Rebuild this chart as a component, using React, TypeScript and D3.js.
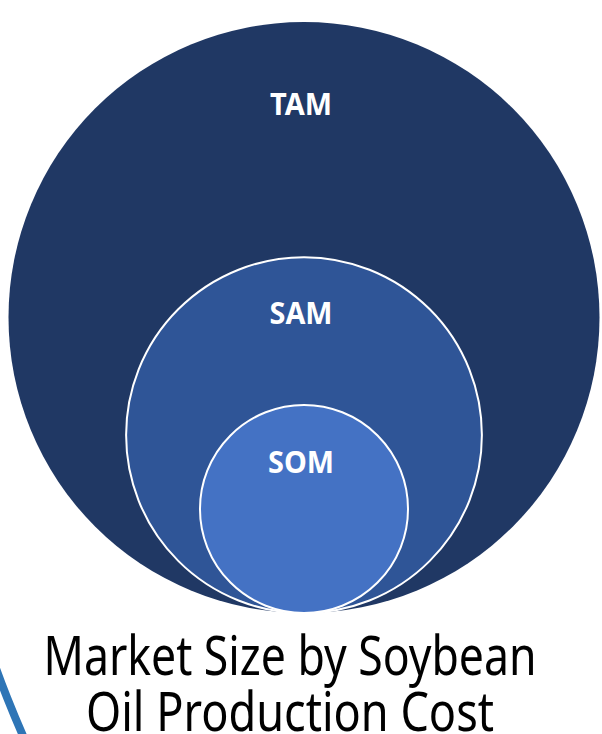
import React, { useEffect, useRef } from 'react';
import * as d3 from 'd3';

// market tiers, outer to inner
const labels = ['TAM', 'SAM', 'SOM'];
const shares = [1, 0.602, 0.352];
const fills = ['#203864', '#2F5597', '#4472C4'];
const titleLines = ['Market Size by Soybean', 'Oil Production Cost'];

const W = 602;
const H = 734;

const App = () => {
  const ref = useRef<SVGSVGElement | null>(null);

  useEffect(() => {
    const svg = d3.select(ref.current);
    svg.selectAll('*').remove();

    const cx = 304;
    const bottom = 613;
    const r = d3.scaleLinear().domain([0, 1]).range([0, 295.5]);
    // label baseline distance from the top of each circle
    const labelOffset = [93, 67, 68];
    const labelWidth = [62, 63, 66];

    // decorative ring clipped at the lower left
    svg.append('circle')
      .attr('cx', 937)
      .attr('cy', 330)
      .attr('r', 1000)
      .attr('fill', 'none')
      .attr('stroke', '#2E75B6')
      .attr('stroke-width', 8);

    const tiers = labels.map((label, i) => ({
      label,
      r: r(shares[i]),
      fill: fills[i],
      i,
    }));

    const g = svg.append('g');

    g.selectAll('circle')
      .data(tiers)
      .join('circle')
        .attr('cx', cx)
        .attr('cy', d => bottom - d.r)
        .attr('r', d => d.r)
        .attr('fill', d => d.fill)
        .attr('stroke', d => (d.i === 0 ? 'none' : '#ffffff'))
        .attr('stroke-width', 2);

    g.selectAll('text')
      .data(tiers)
      .join('text')
        .attr('x', 301)
        .attr('y', d => bottom - 2 * d.r + labelOffset[d.i])
        .attr('text-anchor', 'middle')
        .attr('textLength', d => labelWidth[d.i])
        .attr('lengthAdjust', 'spacingAndGlyphs')
        .style('font-family', '"Noto Sans", sans-serif')
        .style('font-weight', 'bold')
        .style('font-size', '31px')
        .attr('fill', '#ffffff')
        .text(d => d.label);

    // title under the circles
    const titleBase = [675, 731];
    const titleWidth = [493, 408];
    svg.append('g')
      .selectAll('text')
      .data(titleLines)
      .join('text')
        .attr('x', 290)
        .attr('y', (_, i) => titleBase[i])
        .attr('text-anchor', 'middle')
        .attr('textLength', (_, i) => titleWidth[i])
        .attr('lengthAdjust', 'spacingAndGlyphs')
        .style('font-family', '"Noto Sans", sans-serif')
        .style('font-size', '54px')
        .attr('fill', '#000000')
        .text(d => d);
  }, []);

  return (
    <svg
      ref={ref}
      width={W}
      height={H}
      style={{ position: 'absolute', left: 0, top: 0, background: '#ffffff' }}
    />
  );
};

export default App;
